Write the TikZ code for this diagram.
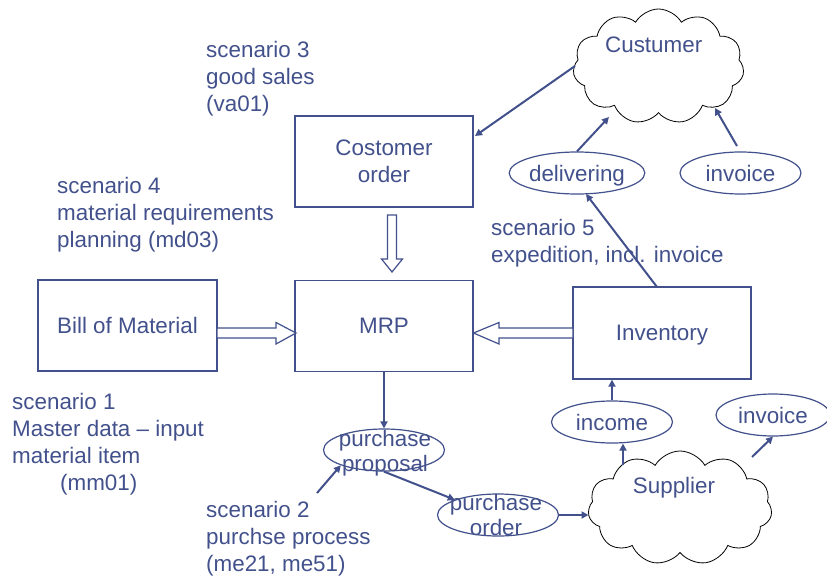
\documentclass[tikz,border=0pt]{standalone}
\usepackage{fontspec}
\setmainfont{Liberation Sans}
\usetikzlibrary{shapes.geometric,shapes.symbols,arrows.meta,calc}
\definecolor{ink}{RGB}{66,81,140}
\begin{document}
\begin{tikzpicture}[x=1pt,y=-1pt,
  every node/.style={font=\fontsize{22.4}{27}\selectfont, text=ink, inner sep=0pt},
  box/.style={draw=ink, line width=1.3pt, minimum width=178pt, minimum height=91pt, align=center, text depth=0pt},
  oval/.style={ellipse, draw=ink, line width=1.2pt, minimum width=121pt, minimum height=42pt, text depth=0pt},
  cloudy/.style={cloud, cloud puffs=11, cloud puff arc=120, aspect=1.5, draw=black, line width=0.8pt},
  lbl/.style={align=left, anchor=base west},
  twoline/.style={align=center, font=\fontsize{22.4}{25}\selectfont},
  conn/.style={draw=ink, line width=2pt, -{Triangle[length=7pt,width=7pt]}},
  blockarrow/.style={draw=ink, line width=1.2pt, fill=white, line join=miter},
]
\useasboundingbox (0,0) rectangle (827,578);

% boxes
\node[box] (co) at (384,161.5) {Costomer\\order};
\node[box] (mrp) at (384,326) {MRP};
\node[box, minimum width=179pt] (bom) at (127.5,325.5) {Bill of Material};
\node[box, minimum height=92pt] (inv) at (662,333) {Inventory};

% clouds
\node[cloudy, minimum width=171pt, minimum height=115pt] (cust) at (658.5,66.5) {};
\node[anchor=base] (custtxt) at (653.7,52.3) {Custumer};
\node[cloudy, minimum width=184pt, minimum height=114pt] (sup) at (680,508) {};
\node[anchor=base] (suptxt) at (674,493.3) {Supplier};

% ellipses
\node[oval] (deliv) at (577,173) {delivering};
\node[oval] (inv1) at (740.5,173) {invoice};
\node[oval] (inc) at (612,422) {income};
\node[oval, minimum width=114pt] (inv2) at (773,415) {invoice};
\node[oval] (prop) at (384,450) {};
\node[twoline, anchor=base] (proptxt) at (385,471) {purchase\\proposal};
\node[oval] (ord) at (498,515) {};
\node[twoline, anchor=base] (ordtxt) at (496,535) {purchase\\order};

% scenario labels (base = baseline of last line)
\node[lbl] (s3) at (206,111) {scenario 3\\good sales\\(va01)};
\node[lbl] (s4) at (57,247) {scenario 4\\material requirements\\planning (md03)};
\node[lbl] (s1) at (12,490) {scenario 1\\Master data -- input\\material item\\\hspace*{48pt}(mm01)};
\node[lbl] (s2) at (206,571.5) {scenario 2\\purchse process\\(me21, me51)};
\node[lbl] (s5) at (491,262.5) {scenario 5\\expedition, incl. invoice};

% block arrows
\draw[blockarrow] (387.5,215) -- (396.5,215) -- (396.5,259) -- (402.5,259) -- (392,272) -- (381.5,259) -- (387.5,259) -- cycle;
\draw[blockarrow] (217,328) -- (276,328) -- (276,322.5) -- (296,333) -- (276,344) -- (276,338) -- (217,338) -- cycle;
\draw[blockarrow] (573,328) -- (499,328) -- (499,322.5) -- (473.5,333) -- (499,344) -- (499,338) -- (573,338) -- cycle;

% connector end points
\coordinate (s2a) at (317,493);
\coordinate (supA) at (623,465);
\coordinate (supB) at (752,457);
\coordinate (invA) at (657,287);
\coordinate (delivB) at (586,194);
\coordinate (custA) at (609,117);
\coordinate (inv1A) at (737,146);
\coordinate (custB) at (715,108);
\coordinate (custC) at (575,66);
\coordinate (coA) at (475,136);

% connectors
\draw[conn] (mrp.south) -- (prop.north);
\draw[conn] (s2a) -- (prop.south west);
\draw[conn] (prop.south) -- (ord.north west);
\draw[conn] (ord.east) -- (ord.east -| sup.west);
\draw[conn] (supA) -- (supA |- inc.south);
\draw[conn] (inc.north) -- (inc.north |- inv.south);
\draw[conn] (supB) -- (inv2.south);
\draw[conn] (invA) -- (delivB);
\draw[conn] (deliv.north) -- (custA);
\draw[conn] (inv1A) -- (custB);
\draw[conn] (custC) -- (coA);
\end{tikzpicture}
\end{document}
